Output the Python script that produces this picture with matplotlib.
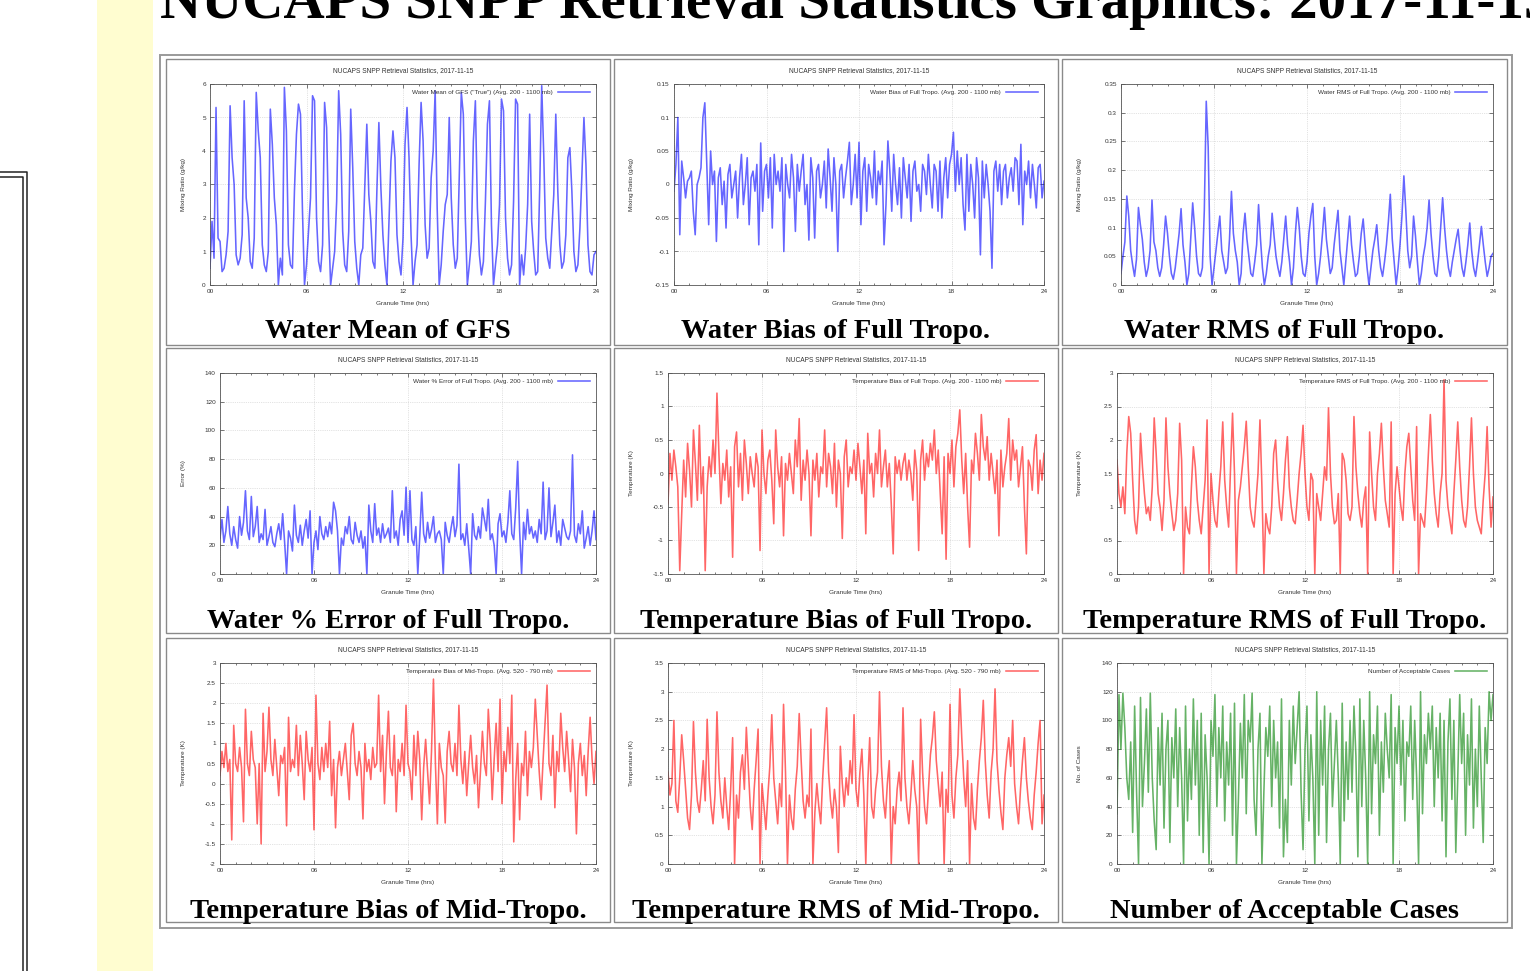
import matplotlib.pyplot as plt
from matplotlib.patches import Rectangle
from matplotlib.lines import Line2D
from matplotlib.ticker import FixedLocator, MultipleLocator, FuncFormatter
import numpy as np

W, H = 1530, 971

# values, one every 7.5 min of granule time (00 - 24 h)
water_mean = [
    0.5, 1.9, 0.8, 5.3, 1.4, 1.3, 0.4, 0.5,
    0.9, 1.6, 5.35, 3.8, 3.0, 0.9, 0.6, 0.8,
    1.5, 5.5, 2.6, 2.0, 0.7, 0.5, 1.4, 5.75,
    4.6, 3.8, 1.2, 0.6, 0.4, 1.0, 5.25, 4.2,
    2.6, 1.8, 0.0, 0.8, 0.3, 5.9, 4.6, 1.2,
    0.6, 0.5, 2.8, 4.5, 5.4, 5.1, 2.2, 0.0,
    0.6, 1.6, 2.6, 5.65, 5.5, 2.0, 0.7, 0.4,
    1.2, 5.45, 4.7, 1.8, 0.0, 0.5, 1.0, 2.5,
    5.8, 4.5, 1.6, 0.6, 0.4, 1.6, 5.25, 3.5,
    1.3, 0.5, 0.0, 0.9, 1.1, 3.0, 4.8, 2.7,
    1.9, 0.7, 0.5, 2.8, 4.85, 2.9, 1.5, 0.6,
    0.0, 1.9, 3.7, 4.6, 3.8, 1.5, 0.7, 0.3,
    1.4, 4.2, 5.3, 3.8, 1.5, 0.0, 0.7, 1.2,
    3.6, 5.45, 4.3, 1.8, 0.8, 1.1, 3.2, 4.0,
    5.8, 2.3, 0.0, 0.6, 1.6, 2.4, 2.7, 5.0,
    2.6, 1.2, 0.5, 0.8, 3.3, 5.75, 5.1, 2.0,
    0.0, 0.6, 1.3, 4.3, 5.5, 2.3, 0.9, 0.3,
    0.7, 2.5, 4.8, 5.5, 1.8, 0.0, 0.6, 1.2,
    2.4, 5.55, 5.2, 2.0, 0.8, 0.3, 0.6, 2.5,
    5.55, 5.4, 0.0, 0.9, 0.3, 1.1, 2.4, 5.1,
    1.9, 1.0, 0.3, 0.4, 2.9, 5.95, 3.9, 1.4,
    0.8, 0.5, 1.6, 2.7, 5.1, 2.8, 1.2, 0.5,
    0.7, 1.5, 3.8, 4.1, 2.8, 1.0, 0.4, 0.6,
    1.7, 3.3, 5.0, 3.6, 1.2, 0.4, 0.3, 0.9,
    1.0]

water_bias = [
    -0.01, 0.03, 0.10, -0.075, 0.035, 0.01, -0.02, 0.005,
    0.01, 0.02, -0.04, -0.075, 0.0, 0.01, 0.025, 0.10,
    0.122, 0.03, -0.06, 0.05, 0.0, 0.02, -0.085, 0.01,
    0.025, -0.03, 0.005, -0.065, 0.015, 0.03, -0.02, 0.0,
    0.02, -0.05, 0.01, 0.045, -0.03, 0.0, 0.04, -0.06,
    0.01, 0.02, -0.01, 0.03, -0.09, 0.062, -0.04, 0.02,
    0.03, -0.02, 0.04, -0.065, 0.045, 0.0, 0.02, -0.01,
    0.04, -0.10, 0.03, 0.0, -0.02, 0.045, 0.01, -0.07,
    0.03, -0.01, 0.02, 0.045, -0.03, 0.0, -0.083, 0.04,
    0.01, -0.08, 0.02, 0.03, -0.02, 0.0, 0.035, -0.035,
    0.053, 0.01, -0.04, 0.04, 0.0, -0.10, 0.02, 0.03,
    -0.02, 0.01, 0.035, 0.063, -0.03, 0.0, 0.045, -0.02,
    0.063, -0.06, 0.02, 0.04, -0.04, 0.03, 0.01, -0.02,
    0.05, -0.03, 0.02, 0.0, 0.035, -0.09, -0.03, 0.065,
    0.02, -0.04, 0.045, 0.0, -0.03, 0.025, -0.05, 0.04,
    0.01, -0.02, 0.03, -0.055, 0.02, 0.035, -0.01, 0.0,
    -0.04, 0.03, 0.02, -0.015, 0.045, 0.0, -0.035, 0.03,
    0.02, -0.04, 0.035, -0.05, 0.01, 0.04, -0.02, 0.03,
    0.045, 0.078, -0.01, 0.05, 0.0, 0.04, -0.03, -0.068,
    0.045, -0.04, 0.03, 0.0, -0.05, 0.04, 0.01, -0.105,
    0.035, -0.02, 0.03, 0.0, -0.04, -0.125, 0.02, 0.035,
    -0.01, 0.03, -0.03, 0.02, 0.03, -0.02, 0.01, 0.025,
    -0.01, 0.04, 0.035, -0.03, 0.06, -0.06, 0.02, 0.0,
    0.035, -0.02, 0.03, 0.0, -0.035, 0.025, 0.03, -0.02,
    0.005]

water_rms = [
    0.02, 0.05, 0.075, 0.155, 0.12, 0.06, 0.035, 0.015,
    0.045, 0.135, 0.105, 0.08, 0.04, 0.015, 0.03, 0.06,
    0.148, 0.075, 0.06, 0.03, 0.015, 0.03, 0.07, 0.12,
    0.09, 0.05, 0.02, 0.01, 0.03, 0.06, 0.09, 0.133,
    0.07, 0.04, 0.0, 0.02, 0.08, 0.143, 0.1, 0.05,
    0.02, 0.015, 0.03, 0.13, 0.32, 0.24, 0.05, 0.0,
    0.03, 0.06, 0.09, 0.12, 0.06, 0.04, 0.02, 0.03,
    0.08, 0.163, 0.09, 0.06, 0.04, 0.0, 0.02, 0.09,
    0.125, 0.08, 0.05, 0.02, 0.015, 0.04, 0.07, 0.14,
    0.08, 0.03, 0.0, 0.02, 0.05, 0.07, 0.125, 0.085,
    0.05, 0.03, 0.015, 0.04, 0.08, 0.12, 0.07, 0.04,
    0.0, 0.03, 0.09, 0.135, 0.1, 0.05, 0.02, 0.015,
    0.04, 0.09, 0.12, 0.142, 0.05, 0.0, 0.02, 0.05,
    0.09, 0.135, 0.08, 0.05, 0.02, 0.03, 0.07, 0.1,
    0.13, 0.06, 0.03, 0.0, 0.04, 0.08, 0.12, 0.07,
    0.04, 0.015, 0.02, 0.05, 0.09, 0.115, 0.07, 0.03,
    0.0, 0.03, 0.06, 0.08, 0.105, 0.06, 0.03, 0.015,
    0.04, 0.07, 0.11, 0.158, 0.08, 0.04, 0.0, 0.03,
    0.07, 0.12, 0.19, 0.13, 0.06, 0.03, 0.05, 0.12,
    0.085, 0.04, 0.0, 0.02, 0.05, 0.07, 0.1, 0.148,
    0.09, 0.05, 0.02, 0.015, 0.05, 0.1, 0.152, 0.1,
    0.06, 0.03, 0.015, 0.04, 0.06, 0.08, 0.097, 0.06,
    0.03, 0.015, 0.04, 0.07, 0.108, 0.06, 0.03, 0.015,
    0.04, 0.07, 0.102, 0.07, 0.04, 0.015, 0.03, 0.05,
    0.055]

water_err = [
    25, 38, 22, 30, 47, 28, 20, 33,
    24, 18, 40, 27, 36, 58, 30, 24,
    54, 26, 33, 47, 22, 28, 24, 45,
    20, 26, 33, 22, 19, 28, 35, 24,
    42, 22, 0, 30, 25, 16, 48, 27,
    22, 34, 20, 30, 38, 25, 44, 0,
    22, 30, 17, 40, 28, 24, 33, 26,
    36, 28, 50, 44, 30, 0, 25, 20,
    33, 28, 40, 24, 21, 36, 27, 22,
    30, 18, 26, 0, 48, 30, 22, 49,
    27, 32, 22, 35, 25, 28, 32, 22,
    58, 25, 30, 20, 38, 44, 27, 60.5,
    22, 58, 24, 20, 33, 0, 26, 57,
    28, 22, 36, 25, 31, 40, 22, 28,
    30, 24, 0, 36, 27, 22, 32, 40,
    26, 34, 76.5, 24, 28, 20, 35, 18,
    0, 42, 27, 24, 33, 25, 46, 38,
    30, 52, 24, 28, 20, 0, 35, 42,
    26, 30, 22, 36, 58, 28, 24, 46,
    78.5, 30, 0, 36, 24, 45, 28, 33,
    25, 30, 22, 38, 28, 64, 24, 30,
    60, 26, 36, 48, 22, 30, 20, 38,
    32, 26, 24, 30, 83, 27, 22, 35,
    28, 44, 18, 25, 33, 20, 30, 44,
    24]

temp_bias_full = [
    -0.45, 0.3, -0.1, 0.35, 0.1, -0.2, -1.45, -0.6,
    0.2, -0.35, 0.45, 0.05, -0.5, 0.65, 0.15, -0.4,
    0.72, -0.3, 0.1, -1.45, -0.2, 0.25, -0.05, 0.5,
    0.0, 1.2, 0.3, -0.45, 0.15, -0.1, 0.35, -0.35,
    0.1, -1.25, 0.4, 0.62, -0.2, 0.3, -0.4, 0.5,
    0.15, -0.3, 0.25, 0.0, -0.2, 0.3, 0.1, -1.15,
    0.65, 0.0, -0.3, 0.2, 0.35, -0.1, -0.75, 0.65,
    0.1, -0.2, 0.25, -0.93, 0.15, -0.1, 0.3, 0.0,
    -0.3, 0.5, 0.1, 0.82, -0.4, 0.2, -0.1, 0.35,
    0.0, -0.93, 0.2, -0.1, 0.3, -0.35, 0.1, 0.0,
    0.65, -0.2, 0.3, 0.1, -0.3, 0.45, -0.5, 0.2,
    0.0, -0.97, 0.25, 0.5, -0.2, 0.1, 0.0, 0.35,
    -0.1, 0.45, 0.1, -0.3, 0.2, -0.9, 0.6, 0.0,
    0.15, -0.35, 0.3, 0.0, 0.65, -0.2, 0.1, 0.35,
    -0.2, 0.15, -0.45, -1.2, 0.25, 0.0, 0.2, -0.1,
    0.15, 0.3, -0.1, 0.2, 0.0, -0.4, 0.35, 0.05,
    -1.15, 0.2, 0.5, -0.1, 0.3, 0.1, 0.45, 0.2,
    0.65, 0.0, 0.35, -0.3, -0.9, 0.25, -1.28, 0.3,
    0.0, 0.5, -0.2, 0.4, 0.6, 0.95, 0.2, -0.3,
    0.3, -0.5, -1.1, 0.2, 0.0, 0.6, 0.3, -0.1,
    0.88, 0.4, 0.2, 0.55, -0.1, 0.3, 0.0, -0.3,
    0.2, -0.93, 0.35, -0.2, 0.1, 0.3, 0.82, -0.1,
    0.5, 0.2, 0.35, -0.2, 0.1, 0.4, -0.5, -1.2,
    0.2, 0.1, -0.25, 0.35, 0.58, -0.3, 0.2, -0.1,
    0.3]

temp_rms_full = [
    1.7, 1.2, 1.0, 1.3, 0.9, 1.8, 2.35, 2.1,
    1.4, 0.8, 0.6, 1.0, 2.1, 1.6, 1.2, 0.9,
    1.0, 0.8, 1.3, 2.33, 1.8, 1.2, 1.0, 0.65,
    1.1, 2.33, 1.6, 1.2, 0.9, 0.65, 0.8, 1.2,
    2.25, 1.7, 0.0, 1.0, 0.7, 0.6, 1.3, 1.9,
    1.6, 1.1, 0.8, 0.6, 1.0, 1.4, 2.3, 0.0,
    1.5, 1.1, 0.8, 0.7, 1.2, 1.6, 2.27, 1.4,
    1.0, 0.7, 1.6, 2.4, 1.5, 0.0, 1.1, 1.3,
    1.6, 1.9, 2.28, 1.6, 1.0, 0.8, 0.7, 1.1,
    1.5, 2.3, 1.3, 0.0, 0.9, 0.7, 0.6, 1.0,
    1.8, 2.0, 1.4, 1.0, 0.8, 1.2, 1.7, 2.05,
    1.3, 1.0, 0.8, 0.75, 1.1, 1.5, 1.8, 2.22,
    1.5, 1.0, 0.8, 1.5, 1.4, 0.0, 1.2, 1.0,
    0.8, 1.2, 1.6, 1.4, 2.48, 1.5, 1.0, 0.75,
    0.8, 1.2, 0.0, 1.8, 1.7, 1.4, 0.9, 0.8,
    1.0, 2.35, 1.6, 1.2, 0.9, 0.7, 1.1, 1.3,
    0.0, 2.12, 1.5, 1.0, 0.8, 1.5, 1.8, 2.25,
    1.6, 1.1, 0.9, 0.7, 2.27, 0.0, 1.2, 1.6,
    1.3, 1.0, 0.8, 1.5, 1.9, 2.1, 1.6, 1.1,
    0.8, 2.2, 0.0, 0.9, 0.8, 0.7, 1.2, 1.8,
    2.38, 1.7, 1.2, 0.9, 0.7, 1.2, 1.5, 2.9,
    1.4, 1.0, 0.8, 0.6, 1.2, 1.7, 2.27, 1.6,
    1.1, 0.8, 0.7, 1.0, 1.6, 2.33, 1.5, 1.0,
    0.8, 0.7, 0.6, 1.1, 1.5, 2.2, 1.3, 0.7,
    1.15]

temp_bias_mid = [
    0.2, 0.8, 0.4, 1.0, 0.3, 0.6, -1.4, 1.45,
    0.5, 0.3, 0.9, 0.4, -0.95, 1.85, 0.5, 0.2,
    1.3, 0.6, 0.4, -1.0, 0.5, -1.5, 1.75, 0.3,
    0.8, 1.9, 0.6, 0.2, 1.1, 0.4, -0.3, 0.7,
    0.5, 0.9, -1.05, 1.65, 0.3, 0.6, 0.4, 1.45,
    0.2, 1.2, 0.5, -0.4, 1.3, 0.6, 0.3, 0.9,
    -1.15, 2.2, 0.5, 0.1, 0.9, 0.3, 1.0, 0.4,
    1.55, -0.3, 0.6, -1.1, 0.4, 0.8, 0.2, 0.6,
    1.0, 0.3, -0.4, 1.2, 1.5, 0.5, 0.2, 0.8,
    0.4, -0.88, 1.0, 0.3, 0.6, 0.1, 0.9, 0.4,
    0.5, 2.2, 0.3, 1.2, -0.5, 0.8, 1.8, 0.4,
    0.2, 1.2, -0.7, 0.6, 0.3, 1.0, 0.2, 1.95,
    0.5, 0.3, -0.4, 1.2, 0.2, 1.3, 0.6, -0.9,
    0.4, 1.1, 0.3, -0.5, 0.8, 2.6, 0.5, -1.0,
    1.0, 0.4, 0.2, -0.98, 0.8, 1.3, 0.5, 0.3,
    1.0, 0.2, 1.95, 0.6, 0.0, 0.8, -0.3, 0.5,
    1.2, 0.4, 0.0, 0.7, -0.6, 0.3, 1.3, 0.5,
    0.2, 1.85, 1.0, -0.4, 0.6, 1.5, 0.3, 2.1,
    -0.5, 0.8, 0.3, 1.4, 0.5, 2.2, -1.45, 0.1,
    1.0, -0.9, 0.5, 0.2, 1.3, -0.3, 0.8, 0.4,
    0.9, 2.1, 1.2, 0.3, -0.4, 0.6, 1.5, 2.45,
    0.5, 0.2, 1.2, -0.6, 0.8, 0.3, 1.75, 0.9,
    0.3, 1.3, 0.6, -0.2, 1.1, 0.4, -1.25, 0.5,
    1.0, 0.2, 0.7, -0.3, 0.8, 1.65, 0.6, 0.0,
    0.8]

temp_rms_mid = [
    1.6, 1.2, 1.4, 2.5, 1.1, 0.9, 1.5, 2.25,
    1.8, 1.3, 0.8, 0.6, 1.2, 2.48, 1.6, 1.1,
    0.9, 1.3, 1.8, 1.1, 2.52, 1.5, 1.0, 0.7,
    1.2, 2.65, 1.6, 1.1, 0.8, 1.5, 1.0, 0.6,
    1.3, 2.2, 0.0, 1.2, 0.8, 1.6, 1.9, 1.3,
    2.38, 1.7, 1.0, 0.6, 1.3, 1.8, 2.35, 0.0,
    1.4, 1.0, 0.6, 1.2, 1.7, 2.6, 1.5, 1.1,
    0.7, 1.4, 1.0, 2.78, 1.6, 0.0, 1.2, 0.8,
    0.6, 1.3, 1.7, 2.62, 1.8, 1.1, 0.8, 1.2,
    1.0, 2.35, 0.0, 0.9, 1.4, 1.0, 0.7, 1.5,
    2.1, 2.72, 1.6, 1.1, 0.8, 1.3, 1.0, 0.2,
    2.05, 1.4, 1.0, 1.5, 1.2, 1.8, 1.4, 2.6,
    1.3, 1.0, 1.6, 2.0, 1.2, 0.0, 1.4, 2.2,
    1.0, 0.8, 1.3, 1.6, 3.0, 1.7, 1.1, 0.8,
    1.4, 1.8, 0.0, 1.0, 0.7, 1.3, 1.6, 1.1,
    2.72, 1.5, 1.0, 0.7, 1.2, 1.8, 1.3, 1.0,
    0.0, 2.52, 1.6, 1.0, 0.7, 1.3, 1.9, 2.2,
    2.65, 1.8, 1.4, 1.0, 1.6, 0.0, 1.3, 0.9,
    2.78, 1.2, 0.8, 1.5, 1.9, 3.05, 2.2, 1.5,
    1.0, 1.8, 0.0, 1.4, 0.8, 0.6, 1.3, 1.8,
    2.2, 2.85, 1.8, 1.2, 0.8, 1.6, 2.0, 3.05,
    1.8, 1.3, 0.9, 0.6, 1.5, 1.9, 2.2, 1.7,
    2.5, 1.4, 1.0, 0.7, 1.3, 1.8, 2.2, 1.5,
    1.1, 0.8, 0.6, 1.2, 1.6, 2.1, 2.5, 0.7,
    1.2]

num_cases = [
    35, 118, 80, 119, 95, 60, 45, 85,
    22, 110, 50, 0, 116, 40, 70, 108,
    50, 119, 60, 30, 10, 95, 55, 105,
    25, 80, 100, 15, 88, 60, 108, 40,
    95, 60, 0, 110, 30, 80, 45, 115,
    55, 100, 20, 105, 8, 90, 60, 0,
    100, 75, 118, 40, 95, 60, 110, 30,
    85, 55, 105, 20, 112, 0, 45, 98,
    60, 118, 35, 100, 85, 119, 45, 20,
    80, 105, 0, 50, 95, 75, 110, 40,
    100, 60, 85, 25, 115, 5, 45, 15,
    100, 55, 110, 70, 95, 120, 50, 10,
    80, 110, 30, 90, 60, 0, 120, 20,
    100, 55, 110, 15, 80, 105, 40, 70,
    100, 60, 0, 112, 30, 85, 45, 100,
    50, 110, 75, 5, 115, 40, 100, 60,
    0, 120, 35, 90, 70, 110, 20, 85,
    50, 105, 80, 60, 118, 0, 95, 70,
    110, 55, 100, 30, 85, 75, 110, 45,
    100, 60, 0, 120, 35, 90, 70, 105,
    80, 110, 40, 95, 60, 105, 30, 100,
    5, 85, 115, 45, 100, 8, 60, 118,
    70, 105, 20, 90, 55, 115, 25, 80,
    40, 110, 60, 15, 95, 70, 120, 100,
    118]

series = [water_mean, water_bias, water_rms, water_err, temp_bias_full,
          temp_rms_full, temp_bias_mid, temp_rms_mid, num_cases]
colors = ["#0000ff"] * 4 + ["#ff0000"] * 4 + ["#008000"]
ylims = [(0, 6, 1), (-0.15, 0.15, 0.05), (0, 0.35, 0.05), (0, 140, 20),
         (-1.5, 1.5, 0.5), (0, 3, 0.5), (-2, 3, 0.5), (0, 3.5, 0.5), (0, 140, 20)]
ylabels = ["Mixing Ratio (g/kg)", "Mixing Ratio (g/kg)", "Mixing Ratio (g/kg)",
           "Error (%)", "Temperature (K)", "Temperature (K)",
           "Temperature (K)", "Temperature (K)", "No. of Cases"]
legends = ['Water Mean of GFS ("True") (Avg. 200 - 1100 mb)',
           "Water Bias of Full Tropo. (Avg. 200 - 1100 mb)",
           "Water RMS of Full Tropo. (Avg. 200 - 1100 mb)",
           "Water % Error of Full Tropo. (Avg. 200 - 1100 mb)",
           "Temperature Bias of Full Tropo. (Avg. 200 - 1100 mb)",
           "Temperature RMS of Full Tropo. (Avg. 200 - 1100 mb)",
           "Temperature Bias of Mid-Tropo. (Avg. 520 - 790 mb)",
           "Temperature RMS of Mid-Tropo. (Avg. 520 - 790 mb)",
           "Number of Acceptable Cases"]
captions = ["Water Mean of GFS", "Water Bias of Full Tropo.",
            "Water RMS of Full Tropo.", "Water % Error of Full Tropo.",
            "Temperature Bias of Full Tropo.", "Temperature RMS of Full Tropo.",
            "Temperature Bias of Mid-Tropo.", "Temperature RMS of Mid-Tropo.",
            "Number of Acceptable Cases"]

# page layout in screen pixels
cell_x = [(166, 610), (614, 1058), (1062, 1507)]
cell_y = [(59, 345), (348, 633), (638, 922)]
ax_left = [210, 674, 1121, 220, 668, 1117, 220, 668, 1117]


def fx(x):
    return x / W


def fy(y):
    return 1 - y / H


def rect(x0, y0, x1, y1, **kw):
    fig.add_artist(Rectangle((fx(x0), fy(y1)), fx(x1) - fx(x0), fy(y0) - fy(y1),
                             transform=fig.transFigure, **kw))


def line(xs, ys, **kw):
    fig.add_artist(Line2D([fx(x) for x in xs], [fy(y) for y in ys],
                          transform=fig.transFigure, **kw))


fig = plt.figure(figsize=(W / 100, H / 100), dpi=100)
fig.patch.set_facecolor("white")

# side strip and left frame of the web page
rect(97, 0, 153, H, facecolor="#fffdd0", edgecolor="none")
line([0, 27.5, 27.5], [172, 172, H], color="#222222", lw=1.1)
line([0, 23, 23], [177, 177, H], color="#222222", lw=1.1)

# page heading, its top runs off the page as in the screenshot
fig.text(fx(160), fy(18), "NUCAPS SNPP Retrieval Statistics Graphics: 2017-11-15",
         fontsize=41, fontweight="bold", family="Liberation Serif",
         va="baseline", ha="left")

# table frame
rect(160, 55, 1512, 928, facecolor="none", edgecolor="#9a9a9a", lw=1.4)

small = dict(family="Liberation Sans", color="#333333")

for i, vals in enumerate(series):
    r, c = divmod(i, 3)
    cx0, cx1 = cell_x[c]
    cy0, cy1 = cell_y[r]
    rect(cx0, cy0, cx1, cy1, facecolor="none", edgecolor="#8a8a8a", lw=1.0)

    left, right = ax_left[i], cx1 - 14
    top, bottom = cy0 + 25, cy0 + 226
    ax = fig.add_axes([fx(left), fy(bottom), fx(right) - fx(left), fy(top) - fy(bottom)])

    t = np.linspace(0, 24, len(vals))
    ax.plot(t, vals, color=colors[i], lw=1.15, alpha=0.6, label=legends[i])

    lo, hi, step = ylims[i]
    ax.set_xlim(0, 24)
    ax.set_ylim(lo, hi)
    ax.xaxis.set_major_locator(FixedLocator([0, 6, 12, 18, 24]))
    ax.xaxis.set_minor_locator(MultipleLocator(1))
    ax.xaxis.set_major_formatter(FuncFormatter(lambda v, p: "%02d" % int(round(v))))
    yt = np.round(np.arange(lo, hi + step / 2, step), 3)
    ax.yaxis.set_major_locator(FixedLocator(yt))
    ax.yaxis.set_major_formatter(FuncFormatter(lambda v, p: "%g" % round(v, 3)))

    ax.tick_params(which="major", direction="in", top=True, right=True,
                   length=3, width=0.5, color="#444444", labelsize=4.6,
                   labelcolor="#333333", pad=3)
    ax.tick_params(which="minor", direction="in", top=True, length=1.6,
                   width=0.5, color="#444444")
    for lab in ax.get_xticklabels() + ax.get_yticklabels():
        lab.set_family("Liberation Sans")
    ax.grid(True, which="major", color="#c8c8c8", lw=0.5, ls=":")
    for sp in ax.spines.values():
        sp.set_color("#555555")
        sp.set_linewidth(0.6)

    ax.set_xlabel("Granule Time (hrs)", fontsize=4.6, labelpad=5, **small)
    ax.set_ylabel(ylabels[i], fontsize=4.6, **small)
    ax.yaxis.set_label_coords((cx0 + 20 - left) / (right - left), 0.5)

    leg = ax.legend(loc="upper right", frameon=False, markerfirst=False,
                    handlelength=5, handletextpad=0.8, borderaxespad=0.5,
                    prop={"family": "Liberation Sans", "size": 4.6})
    for txt in leg.get_texts():
        txt.set_color("#333333")

    fig.text(fx((left + right) / 2), fy(cy0 + 12),
             "NUCAPS SNPP Retrieval Statistics, 2017-11-15",
             fontsize=4.8, ha="center", va="center", **small)
    fig.text(fx((cx0 + cx1) / 2), fy(cy0 + 273), captions[i],
             fontsize=20.5, fontweight="bold", family="Liberation Serif",
             ha="center", va="center")

fig.savefig("out.png", dpi=100)
